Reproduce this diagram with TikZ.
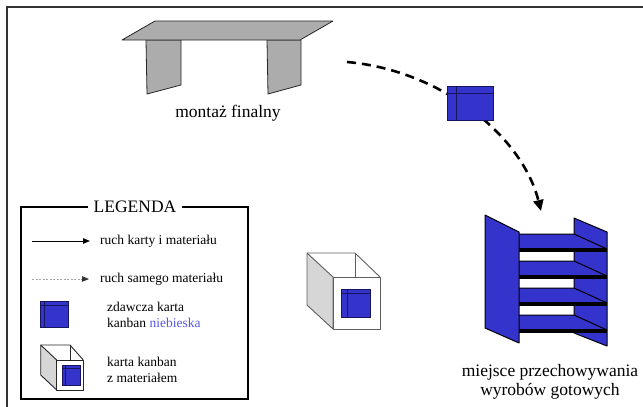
\documentclass[tikz,border=0pt]{standalone}
\usepackage{fontspec}
\setmainfont{Liberation Serif}
\usetikzlibrary{arrows.meta}

\definecolor{kblue}{RGB}{52,52,204}
\definecolor{knavy}{RGB}{22,22,95}
\definecolor{tgray}{RGB}{172,172,172}
\definecolor{sidegray}{RGB}{214,214,214}
\definecolor{boxgray}{RGB}{95,95,95}
\definecolor{linkblue}{RGB}{85,85,235}

\tikzset{
  x=1pt, y=-1pt,
  lbl/.style={font=\fontsize{17.5}{18.5}\selectfont, inner sep=0pt, align=center},
  legtxt/.style={font=\fontsize{13.5}{15.5}\selectfont, inner sep=0pt, anchor=west, align=left},
  cardfill/.style={fill=kblue, draw=knavy, line width=0.9pt},
  cardline/.style={draw=knavy, line width=0.8pt},
  slab/.style={fill=tgray, draw=black!85, line width=0.8pt, line join=round},
  rackpart/.style={fill=kblue, draw=black, line width=1pt, line join=round},
  boxedge/.style={draw=boxgray, line width=0.9pt, line join=round},
  flowdash/.style={line width=2.6pt, dash pattern=on 9pt off 6pt,
    -{Triangle[length=11pt,width=10pt]}},
}

\begin{document}
\begin{tikzpicture}
\useasboundingbox (0,0) rectangle (643,407);

% page frame
\draw[line width=1.8pt, black!80] (643,7) -- (7,7) -- (7,407);

% assembly table: legs, then top
\draw[slab] (146,40) -- (147,94) -- (181,85) -- (181,40) -- cycle;
\draw[slab] (267,40) -- (268,94) -- (301,85) -- (301,40) -- cycle;
\draw[slab] (122,40) -- (155,21) -- (333,21) -- (300,40) -- cycle;
\node[lbl] (assembly) at (228,113) {montaż finalny};

% flow of finished goods to storage
\coordinate (flowstart) at (347,62);
\coordinate (flowend) at (541,211);
\draw[flowdash] (flowstart) .. controls (440,70) and (522,135) .. (flowend);

% kanban card carried along the flow
\draw[cardfill] (447,86) rectangle (493,120);
\draw[cardline] (456,86) -- (456,120) (447,93) -- (493,93);

% storage rack: back panel, shelves, front panel
\draw[rackpart] (574,218) -- (607,232) -- (607,346) -- (574,333) -- cycle;
\foreach \t in {234,261,288,315}{
  \fill[kblue] (519,\t) -- (574,\t) -- (607,\t+15) -- (519,\t+15) -- cycle;
  \draw[black, line width=1pt] (519,\t) -- (574,\t) -- (607,\t+15);
  \draw[black, line width=3.4pt] (519,\t+16) -- (607,\t+16);
}
\draw[rackpart] (485,215) -- (519,232) -- (519,343) -- (485,328) -- cycle;
\node[lbl] (storage) at (550,382) {miejsce przechowywania\\wyrobów gotowych};

% container with kanban card
\draw[boxedge, fill=sidegray] (307,253) -- (333,277) -- (333,329) -- (307,305) -- cycle;
\draw[boxedge, fill=white] (333,277) rectangle (380,329);
\draw[boxedge] (307,253) -- (355,253) -- (380,277);
\draw[boxedge] (355,253) -- (355,277);
\draw[cardfill] (341,289) rectangle (370,317);
\draw[cardline] (347,289) -- (347,317) (341,293.5) -- (370,293.5);

% legend
\draw[line width=1.2pt] (88,207) -- (21,207) -- (21,399) -- (248,399) -- (248,207) -- (182,207);
\node[font=\fontsize{17.5}{19}\selectfont, inner sep=0pt] (legtitle) at (135,207) {LEGENDA};

\coordinate (solidA) at (32,241);
\coordinate (solidB) at (90,241);
\draw[line width=1pt, -{Triangle[length=7pt,width=5.5pt]}] (solidA) -- (solidB);
\node[legtxt] (legsolid) at (100,241) {ruch karty i materiału};

\coordinate (dashA) at (32,279);
\coordinate (dashB) at (89,279);
\draw[line width=0.8pt, draw=gray!70, dash pattern=on 2pt off 1.5pt,
  -{Triangle[length=7pt,width=5.5pt,color=black!80,fill=black!80]}] (dashA) -- (dashB);
\node[legtxt] (legdash) at (100,279) {ruch samego materiału};

\draw[cardfill] (40,301) rectangle (68,327);
\draw[cardline] (44.5,301) -- (44.5,327) (40,305.5) -- (68,305.5);
\node[legtxt] (legcard) at (107,315) {zdawcza karta\\kanban {\color{linkblue}niebieska}};

\draw[boxedge, draw=black!85, fill=sidegray] (40.7,345) -- (56.7,360) -- (56.7,390) -- (40.7,375) -- cycle;
\draw[boxedge, draw=black!85, fill=white] (56.7,360) rectangle (83.3,390);
\draw[boxedge, draw=black!85] (40.7,345) -- (70,345) -- (83.3,360);
\draw[boxedge, draw=black!85] (70,345) -- (70,360);
\draw[cardfill] (62,365) rectangle (80,385);
\draw[cardline] (65,365) -- (65,385) (62,368.5) -- (80,368.5);
\node[legtxt] (legbox) at (107,370) {karta kanban\\z materiałem};
\end{tikzpicture}
\end{document}
